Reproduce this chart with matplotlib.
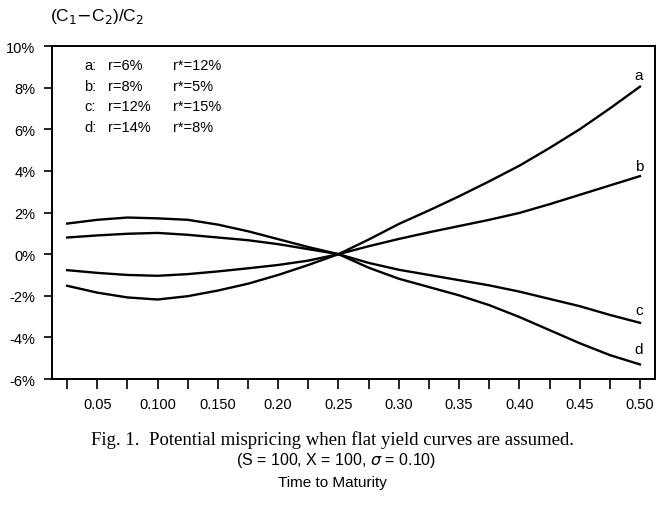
import numpy as np
import matplotlib
matplotlib.use('Agg')
import matplotlib.pyplot as plt
from matplotlib.ticker import MultipleLocator, FixedLocator, FixedFormatter

# time to maturity (years)
t = [0.025, 0.05, 0.075, 0.10, 0.125, 0.15, 0.175, 0.20, 0.225, 0.25,
     0.275, 0.30, 0.325, 0.35, 0.375, 0.40, 0.425, 0.45, 0.475, 0.50]

# mispricing (C1-C2)/C2 in percent
curva_a = [-1.52, -1.85, -2.08, -2.18, -2.02, -1.75, -1.42, -1.00, -0.52, 0.0,
           0.70, 1.45, 2.10, 2.78, 3.50, 4.25, 5.10, 6.00, 7.00, 8.05]
curva_b = [-0.77, -0.90, -1.00, -1.04, -0.96, -0.83, -0.68, -0.52, -0.31, 0.0,
           0.38, 0.73, 1.05, 1.35, 1.65, 1.98, 2.40, 2.85, 3.30, 3.75]
curva_c = [0.80, 0.90, 0.98, 1.02, 0.93, 0.80, 0.67, 0.48, 0.24, 0.0,
           -0.42, -0.75, -1.00, -1.25, -1.50, -1.80, -2.15, -2.50, -2.92, -3.30]
curva_d = [1.47, 1.65, 1.76, 1.72, 1.65, 1.42, 1.10, 0.72, 0.34, 0.0,
           -0.65, -1.18, -1.58, -1.98, -2.45, -3.02, -3.65, -4.28, -4.85, -5.30]

etiquetas = ['a', 'b', 'c', 'd']
tasas_r = ['r=6%', 'r=8%', 'r=12%', 'r=14%']
tasas_rx = ['r*=12%', 'r*=5%', 'r*=15%', 'r*=8%']

ticks_x = [0.05, 0.10, 0.15, 0.20, 0.25, 0.30, 0.35, 0.40, 0.45, 0.50]
textos_x = ['0.05', '0.100', '0.150', '0.20', '0.25', '0.30', '0.35', '0.40', '0.45', '0.50']
ticks_y = [-6, -4, -2, 0, 2, 4, 6, 8, 10]

sans = 'Liberation Sans'
serif = 'Liberation Serif'

fig = plt.figure(figsize=(6.59, 5.06), dpi=100)
ax = fig.add_axes([0.079, 0.249, 0.915, 0.658])

for y in [curva_a, curva_b, curva_c, curva_d]:
    ax.plot(t, y, color='black', lw=1.7)

# etiquetas al final de cada curva
pos_etiq = [8.6, 4.25, -2.7, -4.55]
for lab, yy in zip(etiquetas, pos_etiq):
    ax.text(0.499, yy, lab, family=sans, fontsize=11, ha='center', va='center')

# leyenda en texto
for i in range(4):
    yy = 9.1 - i * 1.0
    ax.text(0.039, yy, etiquetas[i] + ':', family=sans, fontsize=10.5, va='center')
    ax.text(0.059, yy, tasas_r[i], family=sans, fontsize=10.5, va='center')
    ax.text(0.113, yy, tasas_rx[i], family=sans, fontsize=10.5, va='center')

ax.set_xlim(0.0125, 0.5125)
ax.set_ylim(-6, 10)
ax.xaxis.set_major_locator(FixedLocator(ticks_x))
ax.xaxis.set_major_formatter(FixedFormatter(textos_x))
ax.xaxis.set_minor_locator(MultipleLocator(0.05, offset=0.025))
ax.set_yticks(ticks_y)
ax.set_yticklabels([f'{v}%' for v in ticks_y])

ax.tick_params(axis='x', which='both', direction='out', length=7, width=1.2, pad=6)
ax.tick_params(axis='y', direction='out', length=6, width=1.2, pad=6)
for lab in ax.get_xticklabels() + ax.get_yticklabels():
    lab.set_family(sans)
    lab.set_fontsize(10.5)
for s in ax.spines.values():
    s.set_linewidth(1.4)

fig.text(0.076, 0.968, '(C$_1$$-$C$_2$)/C$_2$', family=sans, fontsize=12.5, va='center')

fig.text(0.505, 0.130, 'Fig. 1.  Potential mispricing when flat yield curves are assumed.',
         family=serif, fontsize=13.5, ha='center', va='center')
fig.text(0.51, 0.089, '(S = 100, X = 100, $\\sigma$ = 0.10)', family=sans, fontsize=11.5,
         ha='center', va='center')
fig.text(0.505, 0.046, 'Time to Maturity', family=sans, fontsize=11, ha='center', va='center')

fig.savefig('out.png', dpi=100)
